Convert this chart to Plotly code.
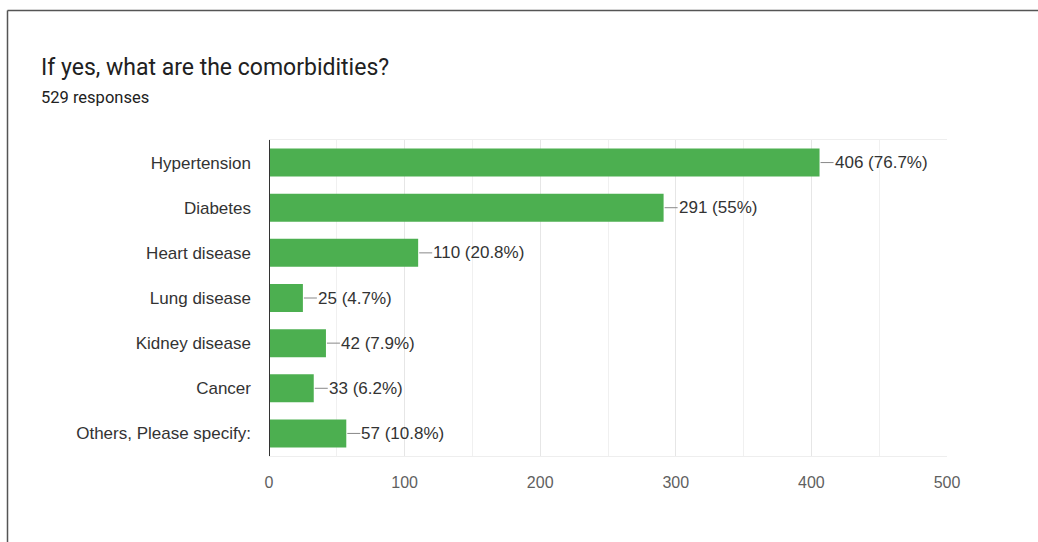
import plotly.graph_objects as go

categories = ["Hypertension", "Diabetes", "Heart disease", "Lung disease",
              "Kidney disease", "Cancer", "Others, Please specify:"]
counts = [406, 291, 110, 25, 42, 33, 57]
percents = ["76.7%", "55%", "20.8%", "4.7%", "7.9%", "6.2%", "10.8%"]
tick_vals = [0, 100, 200, 300, 400, 500]
title_text = "If yes, what are the comorbidities?"
subtitle_text = "529 responses"

W, H = 1038, 542
L, R, T, B = 269, 91, 140, 86
pw, ph = W - L - R, H - T - B

def px_x(p):
    return (p - L) / pw

def px_y(p):
    return (H - B - p) / ph

fig = go.Figure()
fig.add_trace(go.Bar(
    x=counts, y=categories, orientation="h",
    marker=dict(color="#4caf50", line=dict(width=0)),
    width=0.62, hoverinfo="skip",
))

label_font = dict(family="Liberation Sans, Arial, sans-serif", size=17, color="#333333")
shapes = []
annotations = []
for c, v, p in zip(categories, counts, percents):
    shapes.append(dict(type="line", xref="x", yref="y", xsizemode="pixel",
                       xanchor=v, x0=1, x1=14, y0=c, y1=c,
                       line=dict(color="#888888", width=1)))
    annotations.append(dict(x=v, y=c, xref="x", yref="y", text=f"{v} ({p})",
                            showarrow=False, xanchor="left", xshift=13,
                            font=label_font))

# outer frame (top and left edges)
shapes.append(dict(type="line", xref="paper", yref="paper",
                   x0=px_x(7.5), x1=px_x(W + 5), y0=px_y(10.5), y1=px_y(10.5),
                   line=dict(color="#555555", width=1.5)))
shapes.append(dict(type="line", xref="paper", yref="paper",
                   x0=px_x(7.5), x1=px_x(7.5), y0=px_y(10.5), y1=px_y(H + 5),
                   line=dict(color="#555555", width=1.5)))

annotations.append(dict(xref="paper", yref="paper", x=px_x(39), y=px_y(68),
                        xanchor="left", yanchor="middle", showarrow=False,
                        text=title_text,
                        font=dict(family="Roboto, Arial, sans-serif", size=23, color="#212121")))
annotations.append(dict(xref="paper", yref="paper", x=px_x(39), y=px_y(98),
                        xanchor="left", yanchor="middle", showarrow=False,
                        text=subtitle_text,
                        font=dict(family="Roboto, Arial, sans-serif", size=16.5, color="#212121")))

fig.update_layout(
    width=W, height=H,
    margin=dict(l=L, r=R, t=T, b=B, pad=0),
    paper_bgcolor="white", plot_bgcolor="white",
    showlegend=False,
    shapes=shapes, annotations=annotations,
    xaxis=dict(range=[0, 500], tickvals=tick_vals, showgrid=True,
               gridcolor="#e6e6e6", gridwidth=1,
               minor=dict(dtick=50, showgrid=True, gridcolor="#f0f0f0", gridwidth=1),
               zeroline=False, showline=True, linecolor="#eeeeee", mirror=True,
               ticks="", ticklen=0, ticklabelstandoff=12,
               tickfont=dict(family="Liberation Sans, Arial, sans-serif", size=16, color="#5f5f5f"),
               fixedrange=True),
    yaxis=dict(categoryorder="array", categoryarray=categories[::-1],
               autorange=False, range=[-0.5, 6.5],
               showgrid=False, zeroline=False, showline=False,
               ticks="", ticklabelstandoff=17,
               tickfont=label_font, fixedrange=True),
)

# dark baseline at zero drawn on top
fig.add_shape(type="line", xref="x", yref="paper", x0=0, x1=0, y0=0, y1=1,
              line=dict(color="#333333", width=2), layer="above")

fig.write_html("out.html")
